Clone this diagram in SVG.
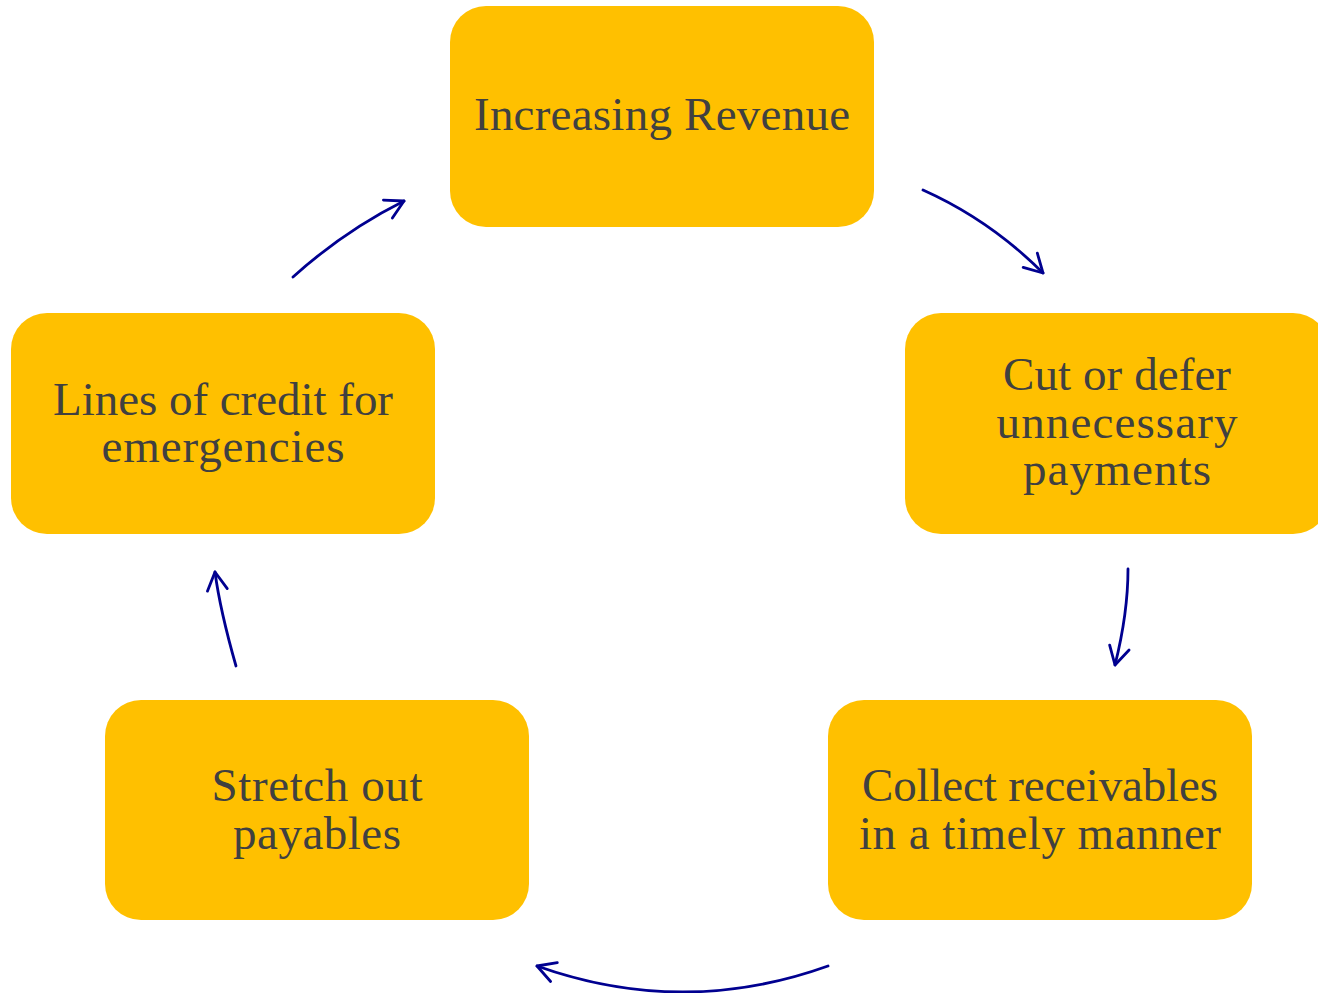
<svg xmlns="http://www.w3.org/2000/svg" width="1318" height="993" viewBox="0 0 1318 993">
  <style>
    .box { fill: #FFC000; }
    .lbl { font-family: "Liberation Serif", "Times New Roman", serif; font-size: 47px; fill: #404040; text-anchor: middle; }
    .arc { fill: none; stroke: #000090; stroke-width: 2.8; stroke-linecap: round; }
  </style>
  <defs>
    <marker id="head" markerUnits="userSpaceOnUse" markerWidth="26" markerHeight="28" viewBox="-22 -14 26 28" refX="0" refY="0" orient="auto">
      <path d="M-18,-10 L0,0 L-18,10" fill="none" stroke="#000090" stroke-width="2.8" stroke-linecap="round" stroke-linejoin="round"/>
    </marker>
  </defs>
  <rect width="1318" height="993" fill="#FFFFFF"/>

  <g id="node-revenue">
    <rect class="box" x="450" y="6" width="424" height="221" rx="36"/>
    <text class="lbl" x="662" y="130" textLength="376">Increasing Revenue</text>
  </g>

  <g id="node-cut">
    <rect class="box" x="905" y="313" width="424" height="221" rx="36"/>
    <text class="lbl" x="1117" y="390" textLength="228">Cut or defer</text>
    <text class="lbl" x="1117" y="438" textLength="241">unnecessary</text>
    <text class="lbl" x="1117" y="485" textLength="188">payments</text>
  </g>

  <g id="node-collect">
    <rect class="box" x="828" y="700" width="424" height="220" rx="36"/>
    <text class="lbl" x="1040" y="801" textLength="356">Collect receivables</text>
    <text class="lbl" x="1040" y="849" textLength="362">in a timely manner</text>
  </g>

  <g id="node-stretch">
    <rect class="box" x="105" y="700" width="424" height="220" rx="36"/>
    <text class="lbl" x="317" y="801" textLength="211">Stretch out</text>
    <text class="lbl" x="317" y="849" textLength="168">payables</text>
  </g>

  <g id="node-credit">
    <rect class="box" x="11" y="313" width="424" height="221" rx="36"/>
    <text class="lbl" x="223" y="415" textLength="340">Lines of credit for</text>
    <text class="lbl" x="223" y="462" textLength="243">emergencies</text>
  </g>

  <g id="connectors">
    <path class="arc" d="M923,190 Q990,220 1043,273" marker-end="url(#head)"/>
    <path class="arc" d="M1128,569 Q1128,613 1115,665" marker-end="url(#head)"/>
    <path class="arc" d="M828,966 Q683,1018 537,966" marker-end="url(#head)"/>
    <path class="arc" d="M236,666 Q220,610 215,572" marker-end="url(#head)"/>
    <path class="arc" d="M293,277 Q344,231 404,201" marker-end="url(#head)"/>
  </g>
</svg>
